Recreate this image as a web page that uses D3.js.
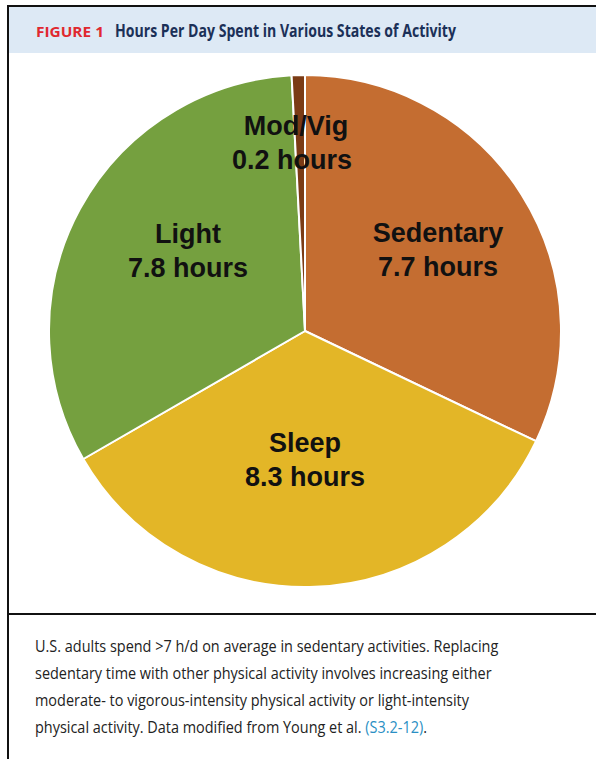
<!DOCTYPE html>
<html>
<head>
<meta charset="utf-8">
<script src="https://cdn.jsdelivr.net/npm/d3@7"></script>
<style>
  html, body { margin: 0; padding: 0; background: #fff; }
  svg { display: block; }
</style>
</head>
<body>
<svg id="chart" width="596" height="759"></svg>
<script>
// data
var categories = ["Sedentary", "Sleep", "Light", "Mod/Vig"];
var hours = [7.7, 8.3, 7.8, 0.2];
var colors = ["#c46d31", "#e3b627", "#75a03f", "#7b3b15"];
var labelLines = [
  ["Sedentary", "7.7 hours"],
  ["Sleep", "8.3 hours"],
  ["Light", "7.8 hours"],
  ["Mod/Vig", "0.2 hours"]
];
var captionLines = [
  "U.S. adults spend >7 h/d on average in sedentary activities. Replacing",
  "sedentary time with other physical activity involves increasing either",
  "moderate- to vigorous-intensity physical activity or light-intensity",
  "physical activity. Data modified from Young et al. "
];

var svg = d3.select("#chart");

// frame and header
svg.append("rect").attr("x", 8).attr("y", 6).attr("width", 600).attr("height", 760)
  .attr("fill", "none").attr("stroke", "#111").attr("stroke-width", 2);
svg.append("rect").attr("x", 9).attr("y", 7).attr("width", 600).attr("height", 46)
  .attr("fill", "#dde9f5");
svg.append("text").attr("x", 36).attr("y", 37).text("FIGURE 1")
  .style("font-family", "'Open Sans', sans-serif").style("font-weight", "700")
  .attr("fill", "#e0282f").style("font-size", "15px")
  .attr("textLength", 68).attr("lengthAdjust", "spacingAndGlyphs");
svg.append("text").attr("x", 115).attr("y", 37)
  .text("Hours Per Day Spent in Various States of Activity")
  .style("font-family", "'Open Sans', sans-serif").style("font-weight", "700")
  .attr("fill", "#1b3058").style("font-size", "17.5px")
  .attr("textLength", 341).attr("lengthAdjust", "spacingAndGlyphs");

svg.append("line").attr("x1", 8).attr("x2", 596).attr("y1", 614).attr("y2", 614)
  .attr("stroke", "#111").attr("stroke-width", 2);

// pie
var cx = 305, cy = 331, r = 256;
var pie = d3.pie().sort(null).value(function (d) { return d; });
var arc = d3.arc().innerRadius(0).outerRadius(r);
var arcs = pie(hours);

var g = svg.append("g").attr("transform", "translate(" + [cx, cy] + ")");
g.selectAll("path.slice").data(arcs).enter().append("path")
  .attr("class", "slice")
  .attr("d", arc)
  .attr("fill", function (d, i) { return colors[i]; })
  .attr("stroke", "#fff").attr("stroke-width", 2).attr("stroke-linejoin", "round");

// label positions relative to pie centre
var labelPos = [
  [133, -89],
  [0, 121],
  [-117, -88],
  [-13, -196]
];
var labels = g.selectAll("g.lab").data(arcs).enter().append("g").attr("class", "lab")
  .attr("transform", function (d, i) { return "translate(" + labelPos[i] + ")"; });
labels.each(function (d, i) {
  var t = d3.select(this).append("text")
    .attr("text-anchor", "middle")
    .style("font-family", "'Liberation Sans', Arial, sans-serif")
    .style("font-weight", "700").style("font-size", "27px").attr("fill", "#111");
  labelLines[i].forEach(function (s, k) {
    t.append("tspan").attr("x", i === 3 && k === 0 ? 4 : 0).attr("y", k * 34).text(s);
  });
});

// caption, horizontally condensed to match the narrow journal face
var cap = svg.append("g").attr("transform", "translate(35,0) scale(0.85,1)")
  .style("font-family", "'Open Sans', sans-serif")
  .style("font-size", "17px").attr("fill", "#222");
captionLines.forEach(function (s, i) {
  var t = cap.append("text").attr("x", 0).attr("y", 652 + i * 27);
  t.append("tspan").text(s);
  if (i === 3) {
    t.append("tspan").text("(S3.2-12)").attr("fill", "#2a8fc4");
    t.append("tspan").text(".");
  }
});
</script>
</body>
</html>
